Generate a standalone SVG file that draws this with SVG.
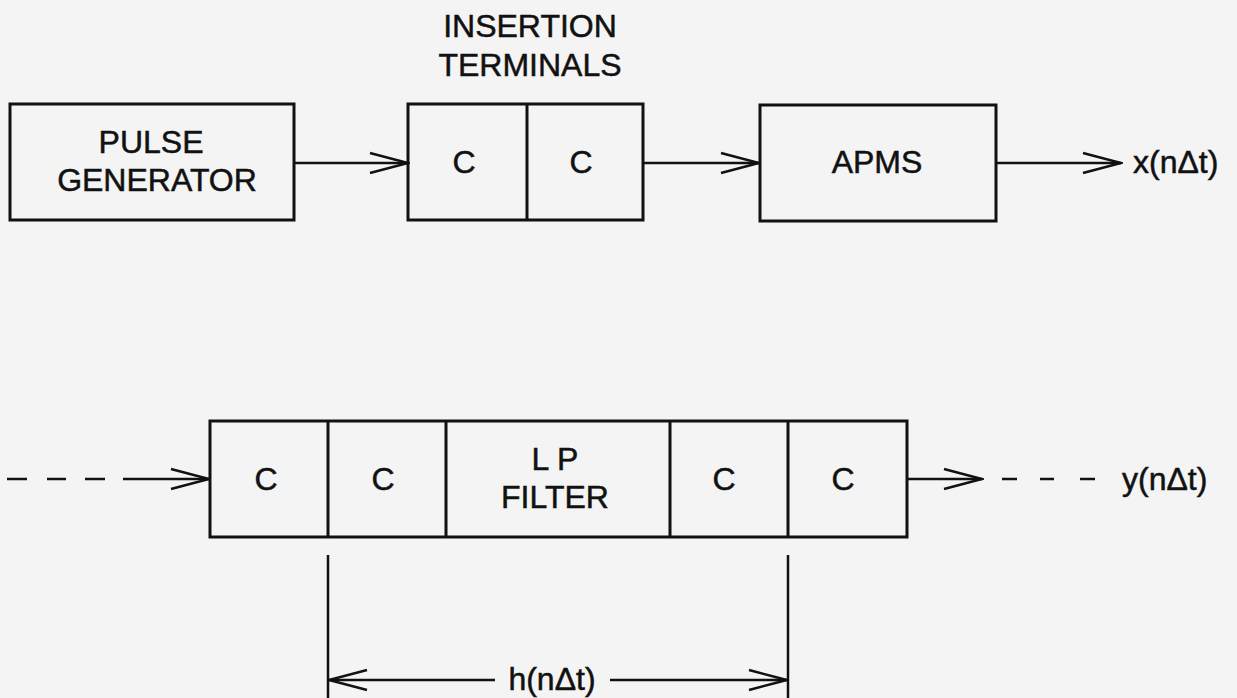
<svg xmlns="http://www.w3.org/2000/svg" width="1237" height="698" viewBox="0 0 1237 698">
<style>
.box{fill:none;stroke:#111;stroke-width:3}
.ln{fill:none;stroke:#111;stroke-width:2.5}
.t{font-family:"Liberation Sans",Arial,sans-serif;font-size:32px;fill:#111;stroke:#111;stroke-width:0.5;text-anchor:middle}
.ts{font-family:"Liberation Sans",Arial,sans-serif;font-size:32px;fill:#111;stroke:#111;stroke-width:0.5;text-anchor:start}
</style>
<defs>
<marker id="ah" viewBox="-40 -12 42 24" refX="0" refY="0" markerWidth="42" markerHeight="24" markerUnits="userSpaceOnUse" orient="auto-start-reverse">
<path d="M-38,-10 L0,0 L-38,10" fill="none" stroke="#111" stroke-width="2.5"/>
</marker>
</defs>
<rect width="1237" height="698" fill="#f4f4f4"/>

<g id="pulse-generator">
<rect class="box" x="10" y="104" width="284" height="116"/>
<text class="t" x="151" y="153">PULSE</text>
<text class="t" x="157" y="191">GENERATOR</text>
</g>

<g id="insertion-terminals">
<text class="t" x="530" y="37">INSERTION</text>
<text class="t" x="530" y="76">TERMINALS</text>
<rect class="box" x="408" y="104" width="235" height="116"/>
<line class="box" x1="527" y1="104" x2="527" y2="220"/>
<text class="t" x="464" y="173">C</text>
<text class="t" x="581" y="173">C</text>
</g>

<g id="apms">
<rect class="box" x="760" y="105" width="236" height="116"/>
<text class="t" x="877" y="173">APMS</text>
</g>

<g id="x-output">
<text class="ts" x="1133" y="173">x(nΔt)</text>
</g>

<g id="filter-chain">
<rect class="box" x="210" y="421" width="697" height="116"/>
<line class="box" x1="328" y1="421" x2="328" y2="537"/>
<line class="box" x1="446" y1="421" x2="446" y2="537"/>
<line class="box" x1="670" y1="421" x2="670" y2="537"/>
<line class="box" x1="788" y1="421" x2="788" y2="537"/>
<text class="t" x="266" y="490">C</text>
<text class="t" x="383" y="490">C</text>
<text class="t" x="555" y="470">L P</text>
<text class="t" x="555" y="508">FILTER</text>
<text class="t" x="724" y="490">C</text>
<text class="t" x="843" y="490">C</text>
</g>

<g id="y-output">
<text class="ts" x="1122" y="490">y(nΔt)</text>
</g>

<g id="h-label">
<text class="t" x="552" y="690">h(nΔt)</text>
</g>

<g id="connectors">
<line class="ln" x1="294" y1="163" x2="408" y2="163" marker-end="url(#ah)"/>
<line class="ln" x1="643" y1="163" x2="759" y2="163" marker-end="url(#ah)"/>
<line class="ln" x1="996" y1="163" x2="1121" y2="163" marker-end="url(#ah)"/>
<line class="ln" x1="7" y1="479" x2="27" y2="479"/>
<line class="ln" x1="47" y1="479" x2="66" y2="479"/>
<line class="ln" x1="85" y1="479" x2="105" y2="479"/>
<line class="ln" x1="123" y1="479" x2="209" y2="479" marker-end="url(#ah)"/>
<line class="ln" x1="907" y1="479" x2="982" y2="479" marker-end="url(#ah)"/>
<line class="ln" x1="1002" y1="479" x2="1017" y2="479"/>
<line class="ln" x1="1040" y1="479" x2="1054" y2="479"/>
<line class="ln" x1="1080" y1="479" x2="1095" y2="479"/>
<line class="ln" x1="328" y1="555" x2="328" y2="698"/>
<line class="ln" x1="788" y1="555" x2="788" y2="698"/>
<line class="ln" x1="329" y1="680" x2="495" y2="680" marker-start="url(#ah)"/>
<line class="ln" x1="610" y1="680" x2="787" y2="680" marker-end="url(#ah)"/>
</g>
</svg>
